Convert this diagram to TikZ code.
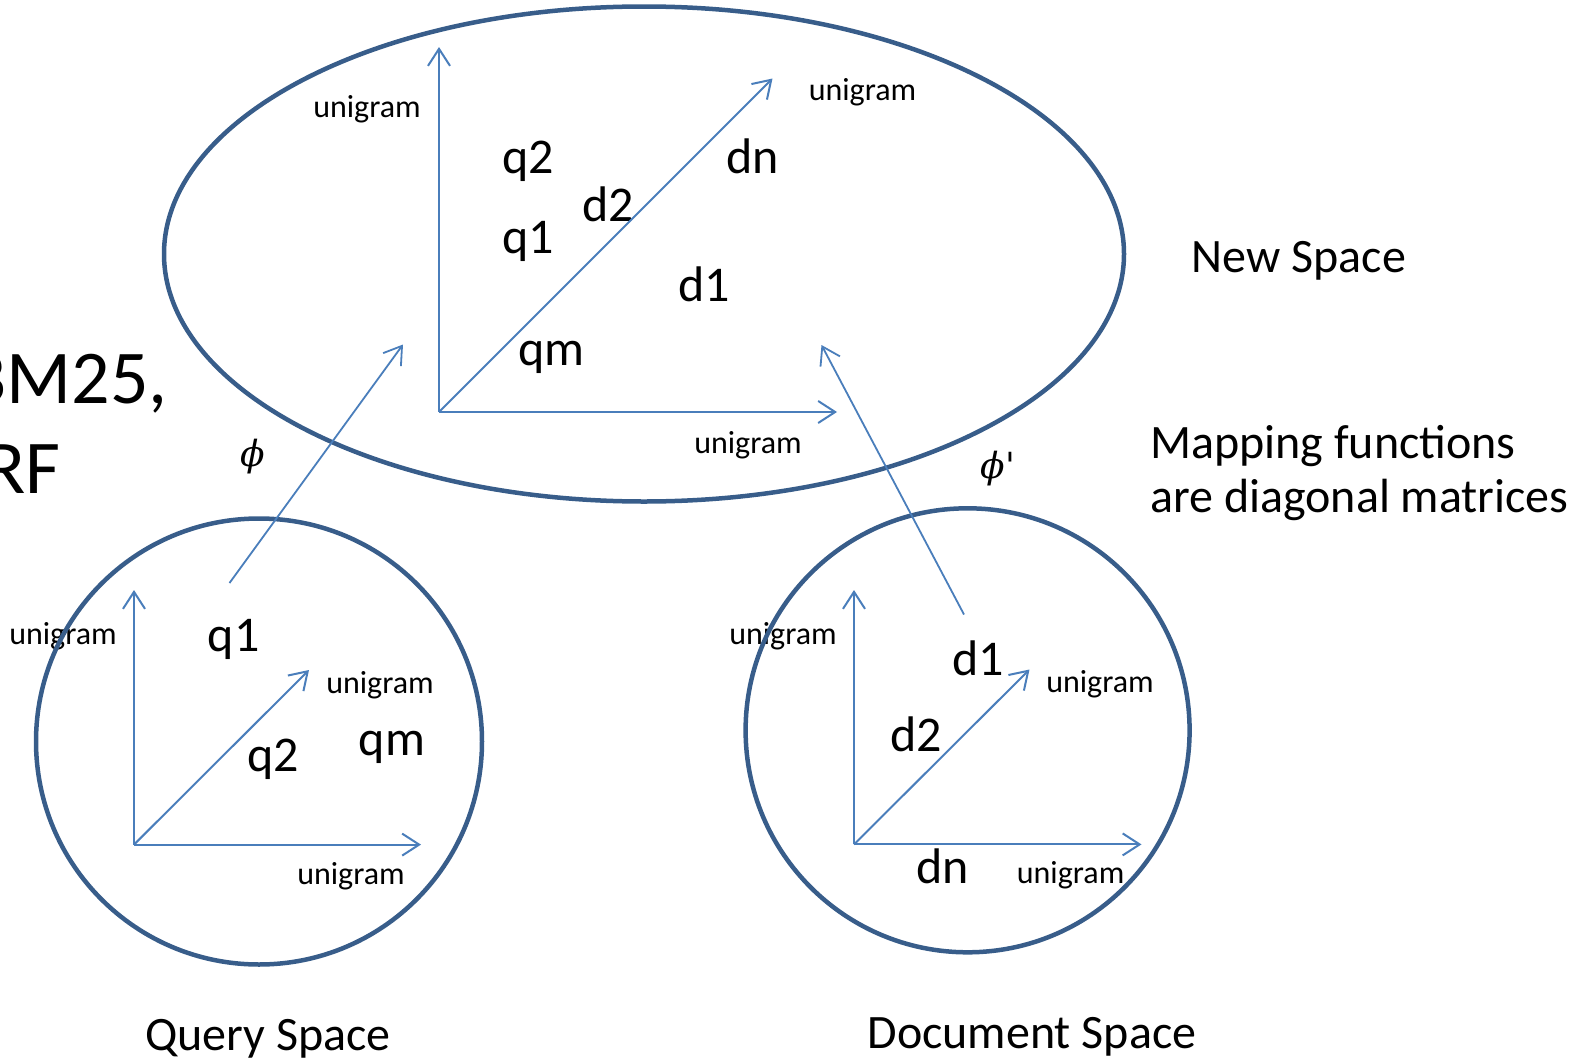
\documentclass[tikz,border=0pt]{standalone}
\usepackage{fontspec}
\setmainfont{Carlito}
\newfontfamily\phifont{DejaVu Serif}
\usetikzlibrary{arrows.meta,shapes.geometric}
\definecolor{rim}{HTML}{385D8A}
\definecolor{axis}{HTML}{4A7EBB}
\tikzset{
  rimline/.style={draw=rim, line width=4.5pt, inner sep=0pt, outer sep=0pt},
  axisarrow/.style={draw=axis, line width=2pt, -{Straight Barb[length=17pt,width=22pt]}},
  maparrow/.style={draw=axis, line width=1.8pt, -{Straight Barb[length=17pt,width=22pt]}},
  small/.style={font=\fontsize{32}{38}\selectfont, inner sep=0pt, anchor=base},
  point/.style={font=\fontsize{50}{60}\selectfont, inner sep=0pt, anchor=base},
  caption/.style={font=\fontsize{48}{58}\selectfont, inner sep=0pt, anchor=base},
  bigtext/.style={font=\fontsize{76}{90}\selectfont, inner sep=0pt, anchor=base west},
  mapname/.style={font=\phifont\itshape\fontsize{36}{42}\selectfont, inner sep=0pt},
}
\begin{document}
\begin{tikzpicture}[x=1pt,y=-1pt]
\useasboundingbox (0,0) rectangle (1591,1060);

% side text
\node[bigtext] (bm) at (-35,403) {BM25,};
\node[bigtext] (rf) at (-16,493) {RF};

% ---- new space ----
\node[small] (nu1) at (367,117) {unigram};
\node[small] (nu2) at (862.5,100) {unigram};
\node[small] (nu3) at (748,453) {unigram};
\node[point] (nq2) at (528.5,173) {q2};
\node[point] (nd2) at (608.5,221) {d2};
\node[point] (nq1) at (528.5,253) {q1};
\node[point] (ndn) at (753,173) {dn};
\node[point] (nd1) at (704,301) {d1};
\node[point] (nqm) at (551.5,365) {qm};
\node[caption] (newname) at (1299,272) {New Space};

\coordinate (no) at (439,412);
\coordinate (ny) at (439,47);
\coordinate (nx) at (837,412);
\coordinate (nz) at (772.5,78.5);
\draw[axisarrow] (no) -- (ny);
\draw[axisarrow] (no) -- (nx);
\draw[axisarrow] (no) -- (nz);

% ---- query space ----
\node[small] (qu1) at (63,644.6) {unigram};
\node[small] (qu2) at (380,693) {unigram};
\node[small] (qu3) at (351,884) {unigram};
\node[point] (qq1) at (233.7,651.8) {q1};
\node[point] (qq2) at (273,771.4) {q2};
\node[point] (qqm) at (392,755.4) {qm};
\node[caption] (qname) at (268,1050) {Query Space};

\coordinate (qo) at (134,844.6);
\coordinate (qy) at (134,590);
\coordinate (qx) at (421,844.6);
\coordinate (qz) at (309,670);
\draw[axisarrow] (qo) -- (qy);
\draw[axisarrow] (qo) -- (qx);
\draw[axisarrow] (qo) -- (qz);

% ---- document space ----
\node[small] (du1) at (783,644) {unigram};
\node[small] (du2) at (1100,692) {unigram};
\node[small] (du3) at (1070.6,883) {unigram};
\node[point] (dd1) at (978,675) {d1};
\node[point] (dd2) at (916.5,751) {d2};
\node[point] (ddn) at (942.6,883) {dn};
\node[caption] (dname) at (1032,1048) {Document Space};

\coordinate (do) at (854,844.4);
\coordinate (dy) at (854,590);
\coordinate (dx) at (1141.5,844.4);
\coordinate (dz) at (1029.5,669.5);
\draw[axisarrow] (do) -- (dy);
\draw[axisarrow] (do) -- (dx);
\draw[axisarrow] (do) -- (dz);

% ---- the three spaces ----
\node[rimline, ellipse, minimum width=960pt, minimum height=495pt] (newspace) at (644,254) {};
\node[rimline, circle, minimum size=446pt] (queryspace) at (259,741.5) {};
\node[rimline, circle, minimum size=444pt] (docspace) at (967.6,730.3) {};

% ---- mapping functions ----
\coordinate (qsrc) at (229.5,583);
\coordinate (qdst) at (403,344.5);
\coordinate (dsrc) at (964,614.5);
\coordinate (ddst) at (821.5,345);
\draw[maparrow] (qsrc) -- (qdst);
\draw[maparrow] (dsrc) -- (ddst);
\node[mapname] (phi) at (253,457) {ϕ};
\node[mapname] (phip) at (998,469) {ϕ'};

\node[caption, anchor=base west] (map1) at (1150,458.6) {Mapping functions};
\node[caption, anchor=base west] (map2) at (1150,512) {are diagonal matrices};
\end{tikzpicture}
\end{document}
